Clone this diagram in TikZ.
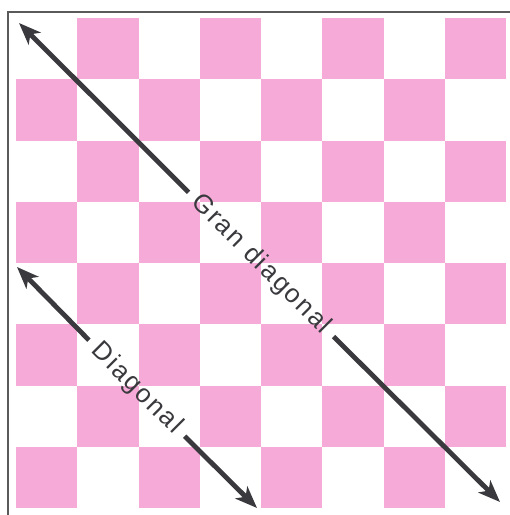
\documentclass[tikz,border=0pt]{standalone}
\usepackage{fontspec}
\setmainfont{Liberation Sans}
\newfontfamily\lblfont[LetterSpace=8]{Liberation Sans}
\usetikzlibrary{arrows.meta}
\definecolor{boardpink}{RGB}{246,170,215}
\definecolor{arrowgrey}{RGB}{58,58,62}
\definecolor{framegrey}{RGB}{90,90,90}
\tikzset{
  sq/.style={fill=boardpink, draw=none},
  arr/.style={draw=arrowgrey, line width=4.8pt, -{Stealth[length=22pt,width=17pt,inset=6pt]}},
  lbl/.style={rotate=-45, inner xsep=9pt, inner ysep=2pt, font=\lblfont\fontsize{26}{26}\selectfont, text=arrowgrey},
  frameline/.style={draw=framegrey, line width=1.8pt}
}
\begin{document}
\begin{tikzpicture}[x=1pt,y=-1pt]
\useasboundingbox[fill=white] (0,0) rectangle (510,515);
% board squares
\foreach \r in {0,...,7}{
  \foreach \c in {0,...,7}{
    \pgfmathtruncatemacro{\parity}{mod(\r+\c,2)}
    \ifnum\parity=1
      \path[sq] ({16+\c*61.25},{18+\r*61.25}) rectangle ++(61.25,61.25);
    \fi
  }
}
% frame
\coordinate (fb) at (8,515);
\coordinate (fc) at (8,12);
\coordinate (fr) at (510,12);
\draw[frameline] (fb) -- (fc) -- (fr);
% gran diagonal
\coordinate (gA) at (19,23);
\coordinate (gB) at (500,502);
\node[lbl] (gT) at (261,264.5) {Gran diagonal};
\draw[arr] (gT) -- (gA);
\draw[arr] (gT) -- (gB);
% diagonal
\coordinate (dA) at (17,267);
\coordinate (dB) at (257,508);
\node[lbl] (dT) at (136.5,388.5) {Diagonal};
\draw[arr] (dT) -- (dA);
\draw[arr] (dT) -- (dB);
\end{tikzpicture}
\end{document}
